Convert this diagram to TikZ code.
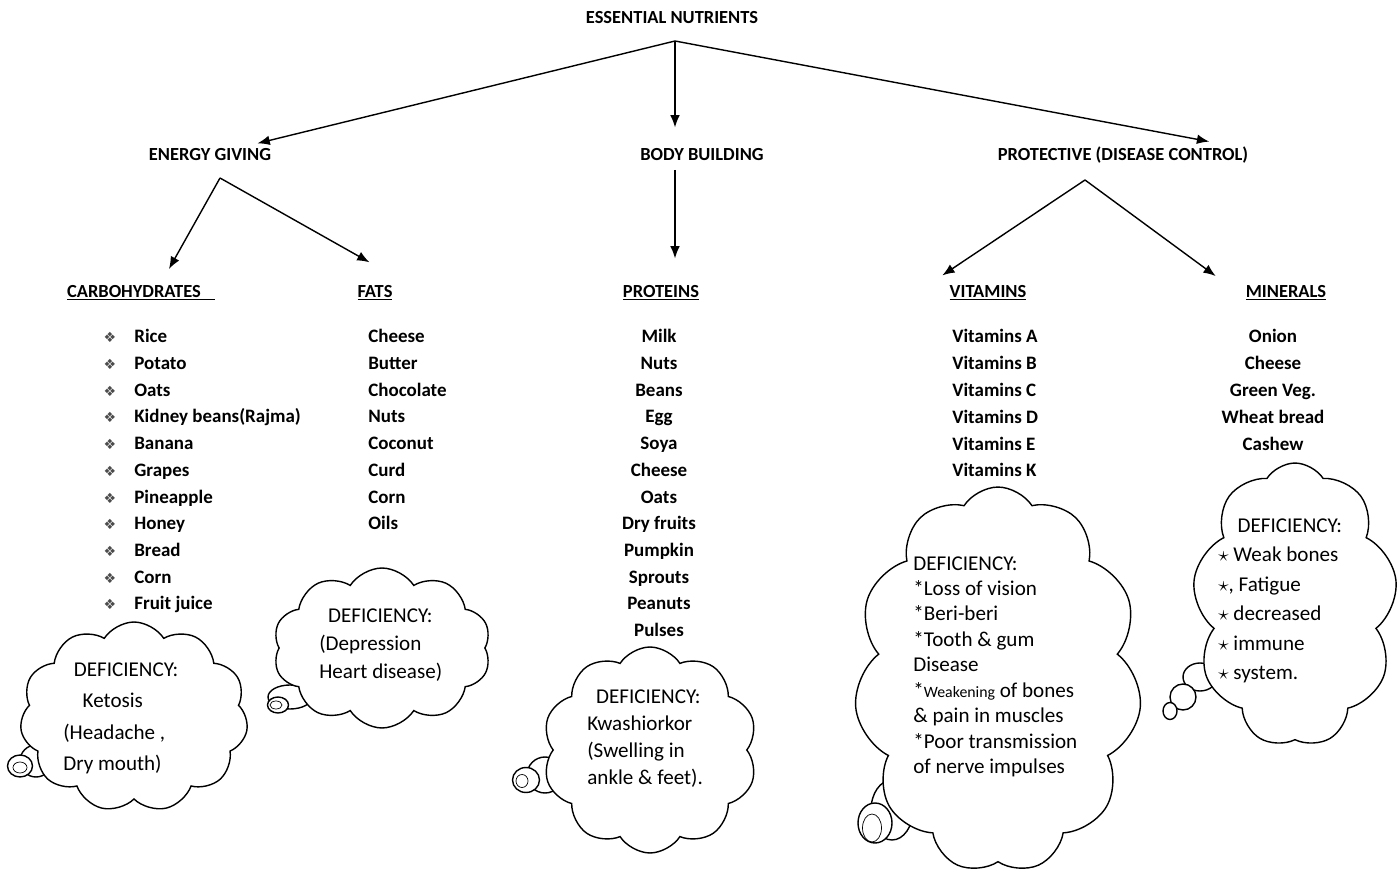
\documentclass[tikz,border=0pt]{standalone}
\usepackage{fontspec}
\setmainfont{Carlito}
\newfontfamily\symfont{DejaVu Sans}
\usetikzlibrary{shapes.symbols}
\usetikzlibrary{arrows.meta}
\usetikzlibrary{calc}
\usetikzlibrary{positioning}
\tikzset{
  head/.style={font=\bfseries\fontsize{10.5}{12}\selectfont, inner sep=2pt},
  item/.style={font=\bfseries\fontsize{10.8}{13}\selectfont, inner sep=0pt, text height=7.5pt, text depth=2pt},
  arr/.style={-{Latex[length=7pt,width=5.5pt]}, line width=0.8pt},
  puff/.style={draw, cloud, cloud puffs=#1, cloud puff arc=115, cloud ignores aspect, fill=white, line width=0.8pt, inner sep=0pt},
  bub/.style={draw, fill=white, line width=0.8pt},
  note/.style={font=\fontsize{12}{#1}\selectfont, align=left, inner sep=0pt, anchor=north west},
}
\begin{document}
\begin{tikzpicture}[x=0.02cm, y=-0.02cm]
\useasboundingbox (0,0) rectangle (1400,874);
% headings
\node[head] (ess) at (672,18) {ESSENTIAL NUTRIENTS};
\node[head] (energy) at (210,155) {ENERGY GIVING};
\node[head] (body) at (702,155) {BODY BUILDING};
\node[head] (prot) at (1123,155) {PROTECTIVE (DISEASE CONTROL)};
\node[head] (carbo) at (141,293) {\underline{CARBOHYDRATES\hspace{8pt}}};
\node[head] (fats) at (375,293) {\underline{FATS}};
\node[head] (prote) at (661,293) {\underline{PROTEINS}};
\node[head] (vita) at (988,293) {\underline{VITAMINS}};
\node[head] (mine) at (1286,293) {\underline{MINERALS}};
% forks
\coordinate (essfork) at (675,41);
\coordinate (egfork) at (220,178);
\coordinate (bbfork) at (675,170);
\coordinate (pcfork) at (1085,180);
\draw[arr, shorten >=4pt] (essfork) -- (energy);
\draw[arr, shorten >=10pt] (essfork) -- (essfork |- body.north);
\draw[arr, shorten >=4pt] (essfork) -- ([xshift=53pt]prot.north);
\draw[arr, shorten >=8pt] (egfork) -- ([xshift=12pt]carbo.north);
\draw[arr, shorten >=22pt] (egfork) -- ([xshift=16pt]fats.north);
\draw[arr, shorten >=13pt] (bbfork) -- (bbfork |- prote.north);
\draw[arr, shorten >=6pt] (pcfork) -- ([xshift=-31pt]vita.north);
\draw[arr, shorten >=5pt] (pcfork) -- ([xshift=-36pt]mine.north);
% lists
\foreach \t [count=\i] in {Rice,Potato,Oats,Kidney beans(Rajma),Banana,Grapes,Pineapple,Honey,Bread,Corn,Fruit juice} {
  \node[item, font=\symfont\footnotesize, text=black!70] (dot\i) at (110, {338+26.7*(\i-1)}) {❖};
  \node[item, anchor=west] (carb\i) at (134, {338+26.7*(\i-1)}) {\t};
}
\foreach \t [count=\i] in {Cheese,Butter,Chocolate,Nuts,Coconut,Curd,Corn,Oils}
  \node[item, anchor=west] (fat\i) at (368, {338+26.7*(\i-1)}) {\t};
\foreach \t [count=\i] in {Milk,Nuts,Beans,Egg,Soya,Cheese,Oats,Dry fruits,Pumpkin,Sprouts,Peanuts,Pulses}
  \node[item] (pro\i) at (659, {338+26.7*(\i-1)}) {\t};
\foreach \t [count=\i] in {A,B,C,D,E,K}
  \node[item, anchor=west] (vit\i) at (952, {338+26.8*(\i-1)}) {Vitamins \t};
\foreach \t [count=\i] in {Onion,Cheese,Green Veg.,Wheat bread,Cashew}
  \node[item] (min\i) at (1273, {338+26.8*(\i-1)}) {\t};
% big bubbles behind the clouds
\draw[bub] (36,761) ellipse [x radius=16, y radius=16];
\draw[bub] (290,697) ellipse [x radius=22, y radius=12];
\draw[bub] (545,775) ellipse [x radius=18, y radius=18];
\draw[bub] (892,810) ellipse [x radius=21, y radius=30];
\draw[bub] (1200,677) ellipse [x radius=17, y radius=14];
% clouds
\node[puff=11, minimum width=4.56cm, minimum height=3.8cm] (cl1) at (134,717) {};
\node[puff=10, minimum width=4.36cm, minimum height=3.2cm] (cl2) at (382,648) {};
\node[puff=10, minimum width=4.3cm, minimum height=4.12cm] (cl3) at (650,750) {};
\node[puff=11, minimum width=5.75cm, minimum height=7.72cm] (cl4) at (998,680) {};
\node[puff=9, minimum width=4.1cm, minimum height=5.68cm] (cl5) at (1295,605) {};
% small bubbles
\draw[bub] (20,766) ellipse [x radius=12.5, y radius=11];
\draw (20,767.5) ellipse [x radius=7, y radius=5.5];
\draw[bub] (278,705) ellipse [x radius=10.5, y radius=8];
\draw (276,705) ellipse [x radius=6, y radius=4];
\draw[bub] (526,780) ellipse [x radius=13.5, y radius=12.5];
\draw (522,781) ellipse [x radius=6, y radius=6.5];
\draw[bub] (875,823) ellipse [x radius=17, y radius=20];
\draw (872,828) ellipse [x radius=9.5, y radius=14];
\draw[bub] (1183,697) ellipse [x radius=13, y radius=13];
\draw[bub] (1170,711) ellipse [x radius=7, y radius=8.5];
% deficiency texts
\node[note=18pt] (def1) at (63,662) {\hspace{6pt}DEFICIENCY:\\\hspace{11pt}Ketosis\\(Headache ,\\Dry mouth)};
\node[note=16.2pt] (def2) at (319,608) {\hspace{5pt}DEFICIENCY:\\(Depression\\Heart disease)};
\node[note=15.5pt] (def3) at (587,689) {\hspace{5pt}DEFICIENCY:\\Kwashiorkor\\(Swelling in\\ankle \& feet).};
\node[note=14.5pt] (def4) at (913,556) {DEFICIENCY:\\*Loss of vision\\*Beri-beri\\*Tooth \& gum\\Disease\\*{\fontsize{9}{9}\selectfont Weakening} of bones\\\& pain in muscles\\*Poor transmission\\of nerve impulses};
\node[note=16.8pt] (def5) at (1218,518) {\hspace{11pt}DEFICIENCY:\\$\star$ Weak bones\\$\star$, Fatigue\\$\star$ decreased\\$\star$ immune\\$\star$ system.};
\end{tikzpicture}
\end{document}
